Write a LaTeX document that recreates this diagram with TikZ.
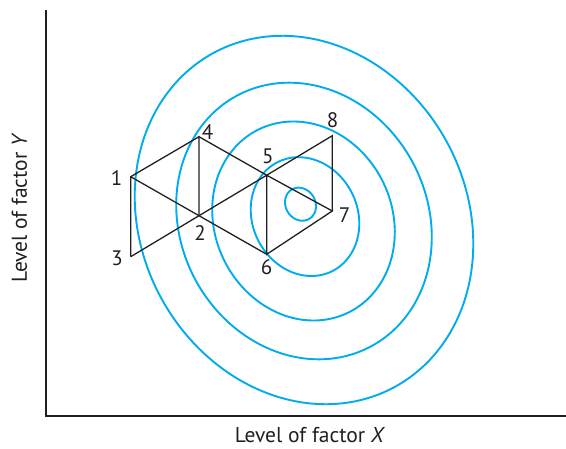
\documentclass[tikz,border=0pt]{standalone}
\usepackage{fontspec}
\setmainfont{PT Sans}
\definecolor{contour}{RGB}{0,172,236}
\definecolor{ink}{RGB}{35,31,32}
\begin{document}
\begin{tikzpicture}[x=1pt,y=-1pt,
  axisline/.style={draw=ink,line width=1.8pt},
  gridline/.style={draw=ink,line width=1.3pt,line join=miter},
  contourline/.style={draw=contour,line width=1.9pt},
  ptlabel/.style={inner sep=0pt,text=ink,font=\fontsize{21}{21}\selectfont},
  axlabel/.style={inner sep=0pt,text=ink,font=\fontsize{21.5}{22}\selectfont}]
\useasboundingbox (0,0) rectangle (566,448);
% axes
\coordinate (ytop) at (46.3,10.3);
\coordinate (orig) at (46.3,415.7);
\coordinate (xend) at (566,415.7);
\draw[axisline] (ytop) -- (orig) -- (xend);
\node[axlabel,anchor=base] (xl) at (310,442.5) {Level of factor \textit{X}};
\node[axlabel,anchor=base,rotate=90] (yl) at (27,208) {Level of factor \textit{Y}};
% contours
\draw[contourline] plot[domain=0:360,samples=120,smooth cycle] ({304+169.3*cos(\x)},{220+23.7*cos(\x)+182.7*sin(\x)});
\draw[contourline] plot[domain=0:360,samples=120,smooth cycle] ({304+127.8*cos(\x)},{221+16*cos(\x)+137.4*sin(\x)});
\draw[contourline] plot[domain=0:360,samples=120,smooth cycle] ({303.5+91.3*cos(\x)},{221+11*cos(\x)+98.9*sin(\x)});
\draw[contourline] plot[domain=0:360,samples=100,smooth cycle] ({305+54.3*cos(\x)},{216.6+7*cos(\x)+59*sin(\x)});
\draw[contourline] plot[domain=0:360,samples=60,smooth cycle] ({300.5+15.5*cos(\x)},{204.2+2*cos(\x)+16.4*sin(\x)});
% design points
\coordinate (p1) at (130.7,176.7);
\coordinate (p2) at (199,215.7);
\coordinate (p3) at (130.7,256.7);
\coordinate (p4) at (199,136.7);
\coordinate (p5) at (266.7,175.2);
\coordinate (p6) at (266.7,254.3);
\coordinate (p7) at (332.3,211);
\coordinate (p8) at (332.3,135.7);
\draw[gridline] (p3) -- (p1) -- (p4) -- (p2);
\draw[gridline] (p1) -- (p2) -- (p6);
\draw[gridline] (p3) -- (p2) -- (p5) -- (p8) -- (p7);
\draw[gridline] (p4) -- (p5) -- (p7) -- (p6) -- (p5);
% labels
\node[ptlabel] (l1) at (116.7,178.3) {1};
\node[ptlabel] (l2) at (200,232.7) {2};
\node[ptlabel] (l3) at (117,258.7) {3};
\node[ptlabel] (l4) at (207.5,131.7) {4};
\node[ptlabel] (l5) at (267.8,156) {5};
\node[ptlabel] (l6) at (266.5,267.5) {6};
\node[ptlabel] (l7) at (344.7,215) {7};
\node[ptlabel] (l8) at (332.5,119.7) {8};
\end{tikzpicture}
\end{document}
